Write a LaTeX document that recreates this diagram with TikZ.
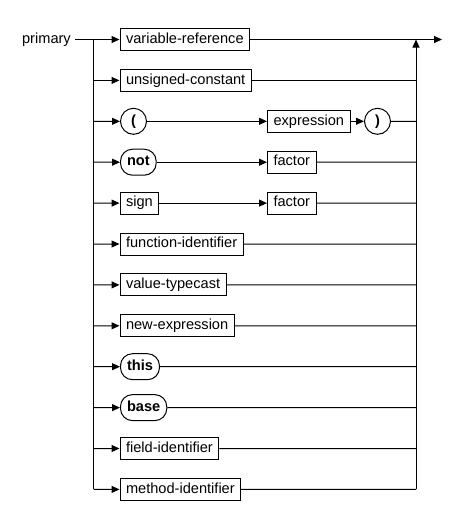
\documentclass[tikz,border=0pt]{standalone}
\usepackage{fontspec}
\setmainfont{Liberation Sans}
\usetikzlibrary{arrows.meta}
\begin{document}
\begin{tikzpicture}[x=1pt,y=1pt,
  font=\fontsize{14.6}{17}\selectfont,
  nt/.style={draw, rectangle, minimum height=22, inner xsep=6, inner ysep=0, text height=10.5, text depth=3, anchor=west, line width=1},
  term/.style={draw, rounded corners=12, minimum height=26, inner xsep=6.5, inner ysep=0, text height=10.5, text depth=3, anchor=west, line width=1, font=\fontsize{14.6}{17}\selectfont\bfseries},
  circ/.style={draw, circle, minimum size=26, inner sep=0, anchor=west, line width=1, text height=10.5, text depth=3, font=\fontsize{14.6}{17}\selectfont\bfseries},
  ln/.style={line width=1},
  arr/.style={ln, -{Triangle[length=8,width=7]}},
]
\useasboundingbox (0,0) rectangle (468,-528);
% junction coordinates
\foreach \i in {0,...,11}{
  \coordinate (L\i) at (93.5,{-39.5-40.9*\i});
  \coordinate (R\i) at (416,{-39.5-40.9*\i});
}
\coordinate (out) at (442,-39.5);
\node[anchor=east, inner xsep=4, inner ysep=0, text height=10.5, text depth=3] (prim) at (75,-39.5) {primary};

\node[nt] (n0) at (119.5,-39.5) {variable-reference};
\node[nt] (n1) at (119.5,-80.4) {unsigned-constant};
\node[circ] (lp) at (120,-121.3) {(};
\node[nt] (expr) at (267,-121.3) {expression};
\node[circ] (rp) at (364,-121.3) {)};
\node[term] (not) at (120,-162.2) {not};
\node[nt] (f1) at (267,-162.2) {factor};
\node[nt] (sign) at (119.5,-203.1) {sign};
\node[nt] (f2) at (267,-203.1) {factor};
\node[nt] (n5) at (119.5,-244) {function-identifier};
\node[nt] (n6) at (119.5,-284.9) {value-typecast};
\node[nt] (n7) at (119.5,-325.8) {new-expression};
\node[term] (n8) at (120,-366.7) {this};
\node[term] (n9) at (120,-407.6) {base};
\node[nt] (n10) at (119.5,-448.5) {field-identifier};
\node[nt] (n11) at (119.5,-489.4) {method-identifier};

% entry
\draw[ln] (prim.east) -- (L0);
\draw[ln] (L0) -- (L11);
\draw[arr] (L0) -- (n0.west);
\draw[arr] (L1) -- (n1.west);
\draw[arr] (L2) -- (lp.west);
\draw[arr] (L3) -- (not.west);
\draw[arr] (L4) -- (sign.west);
\draw[arr] (L5) -- (n5.west);
\draw[arr] (L6) -- (n6.west);
\draw[arr] (L7) -- (n7.west);
\draw[arr] (L8) -- (n8.west);
\draw[arr] (L9) -- (n9.west);
\draw[arr] (L10) -- (n10.west);
\draw[arr] (L11) -- (n11.west);

% middle connections
\draw[arr] (lp.east) -- (expr.west);
\draw[arr] (expr.east) -- (rp.west);
\draw[arr] (not.east) -- (f1.west);
\draw[arr] (sign.east) -- (f2.west);

% exits
\draw[ln] (n0.east) -- (R0);
\draw[ln] (n1.east) -- (R1);
\draw[ln] (rp.east) -- (R2);
\draw[ln] (f1.east) -- (R3);
\draw[ln] (f2.east) -- (R4);
\draw[ln] (n5.east) -- (R5);
\draw[ln] (n6.east) -- (R6);
\draw[ln] (n7.east) -- (R7);
\draw[ln] (n8.east) -- (R8);
\draw[ln] (n9.east) -- (R9);
\draw[ln] (n10.east) -- (R10);
\draw[ln] (n11.east) -- (R11);
\draw[arr] (R11) -- (R0);
\draw[arr] (R0) -- (out);
\end{tikzpicture}
\end{document}
